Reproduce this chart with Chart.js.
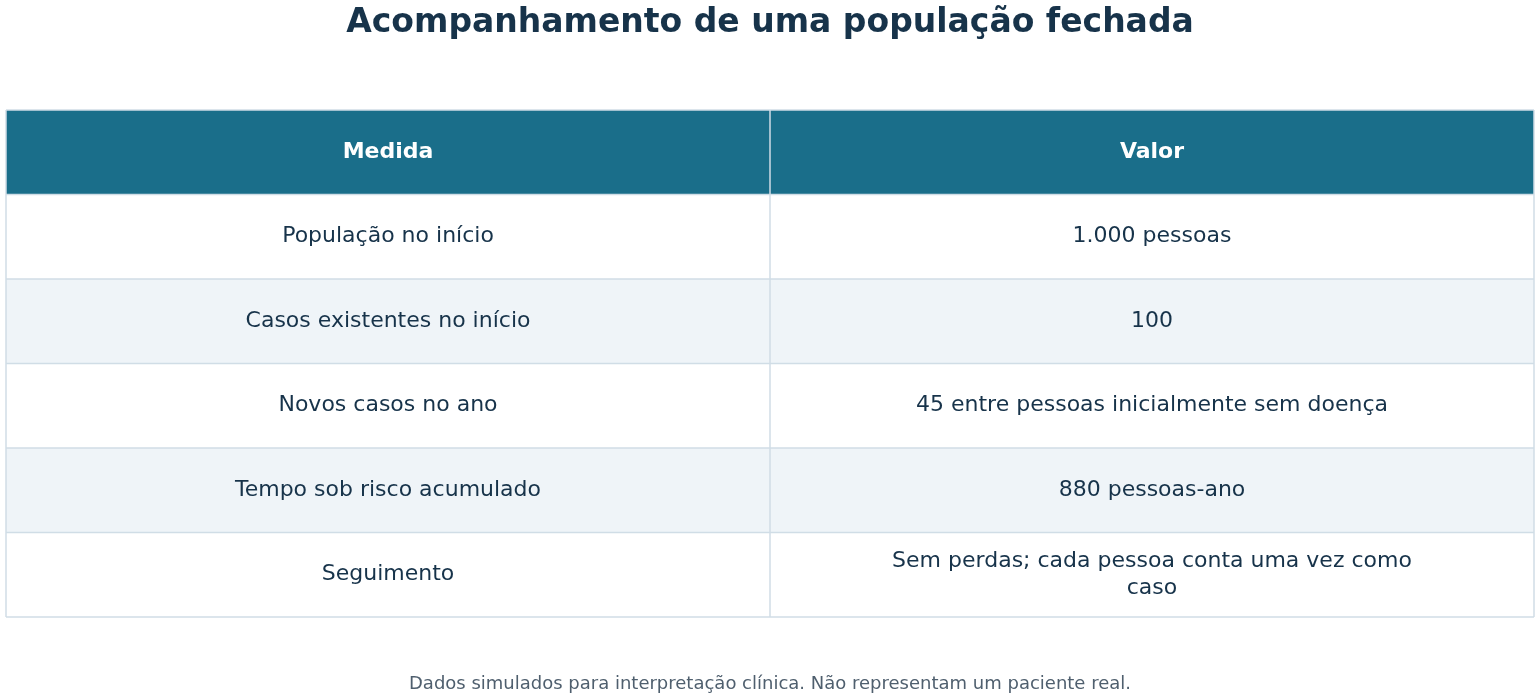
<!DOCTYPE html>
<html><head><meta charset="utf-8">
<script src="https://cdn.jsdelivr.net/npm/chart.js@4/dist/chart.umd.min.js"></script>
<style>html,body{margin:0;padding:0;background:#fff}#w{width:1540px;height:700px}</style>
</head><body><div id="w"><canvas id="c"></canvas></div>
<script>
const titleText = "Acompanhamento de uma população fechada";
const headers = ["Medida", "Valor"];
const measures = ["População no início","Casos existentes no início","Novos casos no ano","Tempo sob risco acumulado","Seguimento"];
const values = ["1.000 pessoas","100","45 entre pessoas inicialmente sem doença","880 pessoas-ano",["Sem perdas; cada pessoa conta uma vez como","caso"]];
const footnote = "Dados simulados para interpretação clínica. Não representam um paciente real.";

const F = "'DejaVu Sans', Verdana, sans-serif";
const tablePlugin = {
  id: 'table',
  afterDraw(chart) {
    const ctx = chart.ctx;
    const L = 6, R = 1534, T = 110, H = 84.5, mid = 770;
    ctx.save();
    ctx.textAlign = 'center'; ctx.textBaseline = 'middle';
    ctx.fillStyle = '#17334a'; ctx.font = "bold 33px " + F;
    ctx.fillText(titleText, 770, 23);
    ctx.fillStyle = '#1a6e8a'; ctx.fillRect(L, T, R - L, H);
    measures.forEach((m, i) => {
      const y = T + H * (i + 1);
      ctx.fillStyle = i % 2 ? '#eff4f8' : '#ffffff';
      ctx.fillRect(L, y, R - L, H);
    });
    ctx.strokeStyle = '#d0dde6'; ctx.lineWidth = 1.5;
    for (let i = 0; i <= measures.length + 1; i++) {
      ctx.beginPath(); ctx.moveTo(L, T + H * i); ctx.lineTo(R, T + H * i); ctx.stroke();
    }
    [L, mid, R].forEach(x => { ctx.beginPath(); ctx.moveTo(x, T); ctx.lineTo(x, T + H * (measures.length + 1)); ctx.stroke(); });
    ctx.fillStyle = '#ffffff'; ctx.font = "bold 22px " + F;
    ctx.fillText(headers[0], (L + mid) / 2, T + H / 2);
    ctx.fillText(headers[1], (mid + R) / 2, T + H / 2);
    ctx.fillStyle = '#17334a'; ctx.font = "22px " + F;
    measures.forEach((m, i) => {
      const cy = T + H * (i + 1) + H / 2;
      ctx.fillText(m, (L + mid) / 2, cy);
      const v = Array.isArray(values[i]) ? values[i] : [values[i]];
      v.forEach((line, k) => ctx.fillText(line, (mid + R) / 2, cy + (k - (v.length - 1) / 2) * 27));
    });
    ctx.fillStyle = '#4f5f6e'; ctx.font = "18px " + F;
    ctx.fillText(footnote, 770, 684);
    ctx.restore();
  }
};
new Chart(document.getElementById('c'), {
  type: 'bar',
  data: { labels: measures, datasets: [{ data: [], label: 'x' }] },
  options: {
    responsive: true, maintainAspectRatio: false, animation: false,
    plugins: { legend: { display: false }, tooltip: { enabled: false } },
    scales: { x: { display: false }, y: { display: false } }
  },
  plugins: [tablePlugin]
});
</script></body></html>
